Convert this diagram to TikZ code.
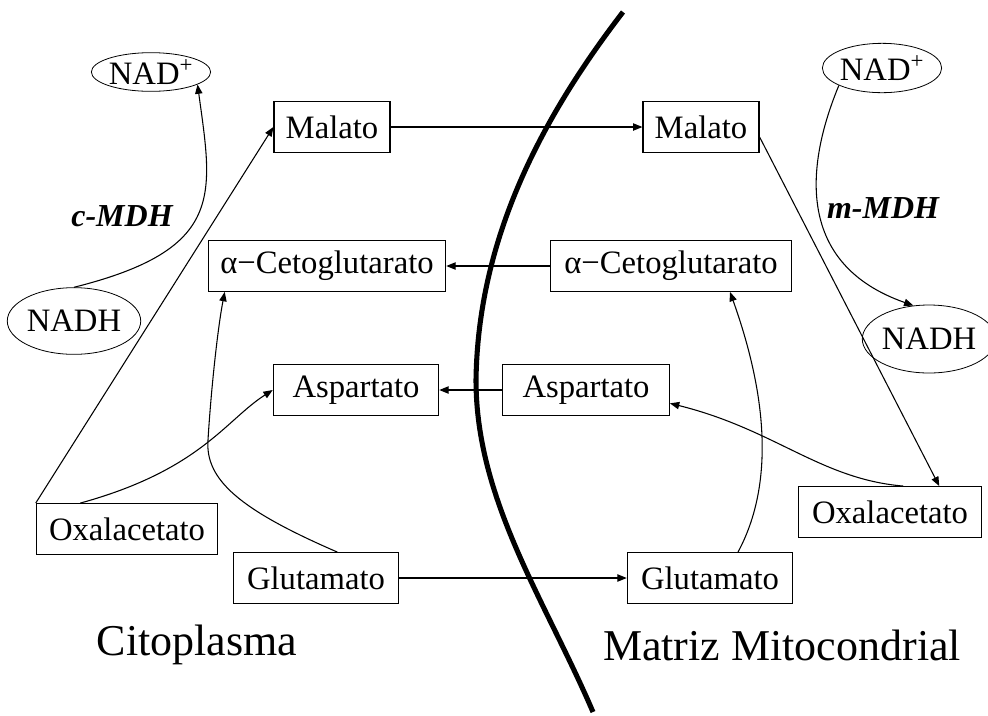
\documentclass[tikz,border=0pt]{standalone}
\usepackage{fontspec}
\setmainfont{Liberation Serif}
\usetikzlibrary{arrows.meta,shapes.geometric}
\tikzset{
  compbox/.style={draw, line width=0.9pt, minimum height=38pt, inner xsep=5pt, font=\fontsize{24.5}{28}\selectfont},
  cofactor/.style={draw, ellipse, line width=0.6pt, inner sep=0pt, font=\fontsize{24.5}{28}\selectfont},
  fluxarrow/.style={-{Triangle[length=7pt,width=5.5pt]}, line width=0.8pt},
  enzlabel/.style={font=\fontsize{24}{28}\selectfont\bfseries\itshape},
  regionlabel/.style={font=\fontsize{33}{38}\selectfont},
  membrane/.style={line width=3.8pt}
}

\begin{document}
\begin{tikzpicture}[x=0.75pt, y=-0.75pt]
\useasboundingbox (0,0) rectangle (988,715);
\draw[membrane] (623,12) .. controls (540,120) and (478,240) .. (476,380) .. controls (476,500) and (545,600) .. (593,712);
\node[compbox, minimum width=87pt] (malL) at (332,127) {Malato};
\node[compbox, minimum width=87pt] (malR) at (701,127) {Malato};
\node[compbox, minimum width=178pt] (cetL) at (327,266) {α−Cetoglutarato};
\node[compbox, minimum width=181pt] (cetR) at (671,266) {α−Cetoglutarato};
\node[compbox, minimum width=124pt] (aspL) at (356,390) {Aspartato};
\node[compbox, minimum width=125pt] (aspR) at (586,390) {Aspartato};
\node[compbox, minimum width=136pt] (oxaL) at (127,529) {Oxalacetato};
\node[compbox, minimum width=137pt] (oxaR) at (890,512) {Oxalacetato};
\node[compbox, minimum width=124pt] (glutL) at (316,578) {Glutamato};
\node[compbox, minimum width=124pt] (glutR) at (710,578) {Glutamato};
\node[cofactor, minimum width=86pt, minimum height=29pt] (nadL) at (151,72) {NAD\textsuperscript{+}};
\node[cofactor, minimum width=94pt, minimum height=50pt] (nadhL) at (74,321) {NADH};
\node[cofactor, minimum width=86pt, minimum height=37pt] (nadR) at (882,68) {NAD\textsuperscript{+}};
\node[cofactor, minimum width=86pt, minimum height=51pt] (nadhR) at (929,339) {NADH};
\node[enzlabel] (cmdh) at (122,216) {c-MDH};
\node[enzlabel] (mmdh) at (883,208) {m-MDH};
\node[regionlabel] (cito) at (197,645) {Citoplasma};
\node[regionlabel] (matriz) at (782,645) {Matriz Mitocondrial};
\draw[fluxarrow] (malL) -- (malR);
\draw[fluxarrow] (cetR) -- (cetL);
\draw[fluxarrow] (aspR) -- (aspL);
\draw[fluxarrow] (glutL) -- (glutR);
\draw[fluxarrow] (oxaL.north west) -- (malL.west);
\draw[fluxarrow] (nadhL.north) .. controls +(152,-38) and +(15,110) .. (nadL.-15);
\draw[fluxarrow] ([xshift=-35pt]oxaL.north) .. controls +(120,-33) and +(-47,30) .. (aspL.west);
\draw[fluxarrow] ([xshift=16pt]glutL.north) .. controls +(-97,-42) and +(-3,40) .. (208,440) .. controls +(3,-50) and +(-7,36) .. ([xshift=12.75pt]cetL.south west);
\draw[fluxarrow] ([yshift=-7.5pt]malR.east) -- ([xshift=-32pt]oxaR.north east);
\draw[fluxarrow] (nadR.-158) .. controls +(-34,82) and +(-117,-41) .. (nadhR.115);
\draw[fluxarrow] ([xshift=10pt]oxaR.north) .. controls +(-83,-7) and +(105,26) .. ([yshift=-10pt]aspR.east);
\draw[fluxarrow] ([xshift=21pt]glutR.north) .. controls +(42,-78) and +(30,84) .. ([xshift=44.25pt]cetR.south);
\end{tikzpicture}
\end{document}
